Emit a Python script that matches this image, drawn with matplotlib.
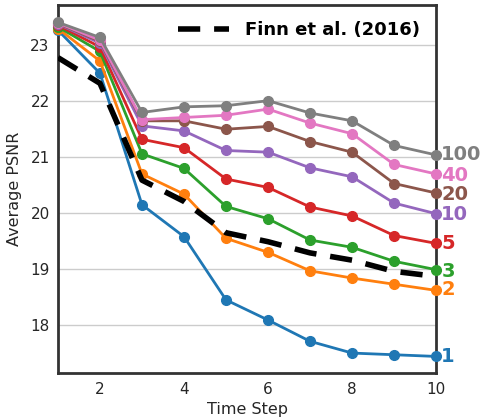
import matplotlib
matplotlib.use("Agg")
import matplotlib.pyplot as plt
import numpy as np

steps = np.arange(1, 11)
labels = ["1", "2", "3", "5", "10", "20", "40", "100"]
colors = ["#1f77b4", "#ff7f0e", "#2ca02c", "#d62728", "#9467bd", "#8c564b", "#e377c2", "#7f7f7f"]
psnr = {
    "1":   [23.26, 22.49, 20.14, 19.57, 18.44, 18.08, 17.70, 17.49, 17.46, 17.43],
    "2":   [23.29, 22.71, 20.69, 20.33, 19.54, 19.29, 18.96, 18.83, 18.72, 18.61],
    "3":   [23.32, 22.88, 21.05, 20.79, 20.11, 19.89, 19.51, 19.38, 19.13, 18.98],
    "5":   [23.35, 22.96, 21.31, 21.16, 20.60, 20.45, 20.10, 19.94, 19.59, 19.45],
    "10":  [23.37, 23.03, 21.55, 21.46, 21.11, 21.08, 20.80, 20.64, 20.17, 19.98],
    "20":  [23.38, 23.06, 21.64, 21.64, 21.49, 21.54, 21.27, 21.08, 20.52, 20.35],
    "40":  [23.39, 23.08, 21.66, 21.70, 21.74, 21.85, 21.60, 21.41, 20.86, 20.69],
    "100": [23.40, 23.13, 21.79, 21.89, 21.91, 22.00, 21.78, 21.64, 21.20, 21.03],
}
finn = [22.77, 22.31, 20.58, 20.20, 19.64, 19.48, 19.28, 19.15, 18.95, 18.86]
# y of end labels (data units), nudged so they don't collide
label_y = {"1": 17.43, "2": 18.63, "3": 18.95, "5": 19.45, "10": 19.97,
           "20": 20.33, "40": 20.66, "100": 21.03}

fig = plt.figure(figsize=(4.83, 4.17), dpi=100)
ax = fig.add_axes([0.120, 0.105, 0.783, 0.883])

for lab, c in zip(labels, colors):
    ax.plot(steps, psnr[lab], "-o", color=c, lw=2, ms=7, clip_on=False, zorder=3)
    ax.text(10.12, label_y[lab], lab, color=c, fontsize=14, fontweight="bold",
            va="center", ha="left")

ax.plot(steps, finn, "--", color="black", lw=4, dashes=(4, 2.5),
        label="Finn et al. (2016)", zorder=4)

ax.set_xlim(1, 10)
ax.set_ylim(17.13, 23.71)
ax.set_xticks([2, 4, 6, 8, 10])
ax.set_yticks([18, 19, 20, 21, 22, 23])
ax.yaxis.grid(True, color="#cccccc", lw=1)
ax.set_axisbelow(True)
ax.tick_params(length=0, labelsize=11, colors="#262626", pad=6)
for s in ax.spines.values():
    s.set_color("#333333")
    s.set_linewidth(2)
ax.set_xlabel("Time Step", fontsize=11.5, color="#262626", labelpad=4)
ax.set_ylabel("Average PSNR", fontsize=11.5, color="#262626", labelpad=6)

ax.legend(loc="upper right", frameon=False, handlelength=2.8, handletextpad=0.9,
          prop={"weight": "bold", "size": 13})

fig.savefig("out.png", dpi=100)
